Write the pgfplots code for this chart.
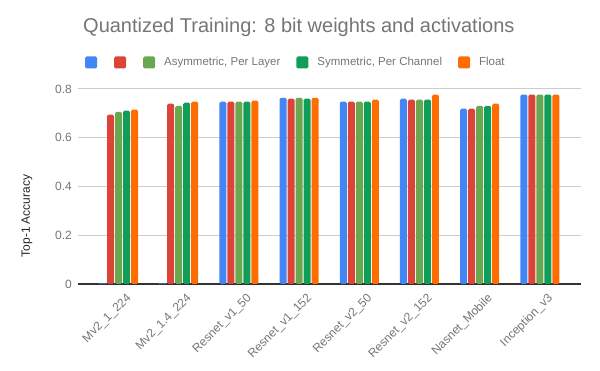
\documentclass[border=0pt]{standalone}
\usepackage{fontspec}
\setmainfont{Liberation Sans}
\usepackage{pgfplots}
\pgfplotsset{compat=1.18}
\definecolor{gblue}{HTML}{4285F4}
\definecolor{gred}{HTML}{DB4437}
\definecolor{glgreen}{HTML}{6AA84F}
\definecolor{gdgreen}{HTML}{0F9D58}
\definecolor{gorange}{HTML}{FF6D01}
\definecolor{txtgray}{HTML}{757575}
\definecolor{gridgray}{HTML}{CCCCCC}
\begin{document}
\begin{tikzpicture}
\begin{axis}[
  at={(0,0)}, anchor=south west,
  scale only axis, width=503pt, height=195pt,
  ybar=1pt, bar width=7pt,
  xmin=-0.673, xmax=7.683, ymin=0, ymax=0.8,
  xtick=data,
  xticklabels={Mv2\_1\_224,Mv2\_1.4\_224,Resnet\_v1\_50,Resnet\_v1\_152,Resnet\_v2\_50,Resnet\_v2\_152,Nasnet\_Mobile,Inception\_v3},
  ytick={0,0.2,0.4,0.6,0.8},
  /pgf/number format/assume math mode=true,
  tick style={draw=none},
  axis line style={draw=none},
  ymajorgrids=true, grid style={gridgray, line width=1pt},
  extra y ticks={0}, extra y tick labels={},
  extra y tick style={grid style={black!80, line width=1.3pt}},
  xticklabel style={font=\fontsize{12}{14}\selectfont, text=txtgray, rotate=45, anchor=north east, inner sep=0pt, xshift=2pt, yshift=-8pt},
  yticklabel style={font=\fontsize{12}{14}\selectfont, text=txtgray, inner sep=0pt, xshift=-6pt},
  ylabel={Top-1 Accuracy},
  ylabel style={font=\fontsize{12}{14}\selectfont, text=black!85, at={(axis description cs:-0.1014,0.3487)}, anchor=center},
  title={Quantized Training: 8 bit weights and activations},
  title style={font=\fontsize{20}{24}\selectfont, text=txtgray, at={(axis description cs:0.00994,1.2615)}, anchor=base west, inner sep=0pt},
  legend columns=-1,
  legend image code/.code={\fill[#1, rounded corners=1.5pt] (0pt,-6pt) rectangle (12pt,6pt);},
  legend style={draw=none, fill=none, at={(0.0079,1.1359)}, anchor=west,
    font=\fontsize{11.5}{14}\selectfont, text=txtgray,
    nodes={inner sep=0pt},
    /tikz/every even column/.append style={column sep=16pt}},
]
\addplot[fill=gblue, draw=none, rounded corners=1.5pt] coordinates {(0,0.003)(1,0.003)(2,0.748)(3,0.764)(4,0.748)(5,0.760)(6,0.719)(7,0.777)};
\addplot[fill=gred, draw=none, rounded corners=1.5pt] coordinates {(0,0.695)(1,0.740)(2,0.748)(3,0.760)(4,0.748)(5,0.756)(6,0.719)(7,0.777)};
\addplot[fill=glgreen, draw=none, rounded corners=1.5pt] coordinates {(0,0.706)(1,0.731)(2,0.748)(3,0.764)(4,0.748)(5,0.756)(6,0.731)(7,0.777)};
\addplot[fill=gdgreen, draw=none, rounded corners=1.5pt] coordinates {(0,0.711)(1,0.744)(2,0.748)(3,0.760)(4,0.748)(5,0.756)(6,0.731)(7,0.777)};
\addplot[fill=gorange, draw=none, rounded corners=1.5pt] coordinates {(0,0.715)(1,0.748)(2,0.752)(3,0.764)(4,0.756)(5,0.777)(6,0.740)(7,0.777)};
\legend{{\hspace*{0pt}},{\hspace*{0pt}},{\hspace*{9pt}Asymmetric, Per Layer},{\hspace*{9pt}Symmetric, Per Channel},{\hspace*{9pt}Float}}
\end{axis}
\path[use as bounding box] (-78pt,-87pt) rectangle (522pt,284pt);
\end{tikzpicture}
\end{document}
